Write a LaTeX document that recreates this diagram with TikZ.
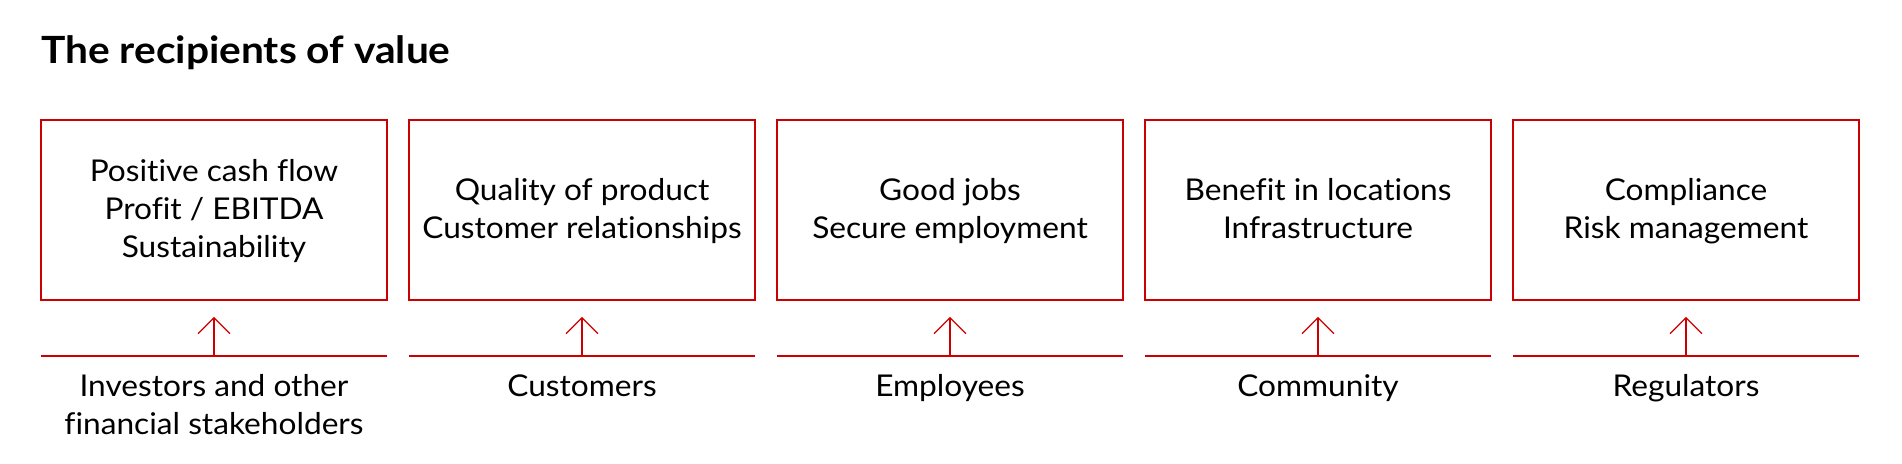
\documentclass[tikz,border=0pt]{standalone}
\usepackage{fontspec}
\setmainfont{Lato}[FakeStretch=1.055, Ligatures=NoCommon, BoldFeatures={FakeStretch=1.085}]
\usetikzlibrary{arrows.meta}
\definecolor{vred}{RGB}{204,0,0}
\newcommand\bstrut{\rule[-9.9pt]{0pt}{38pt}}
\begin{document}
\begin{tikzpicture}[x=1pt,y=-1pt,
  valuebox/.style={draw=vred, line width=1.6pt, minimum width=346pt, minimum height=180pt, inner sep=0pt, align=center, font=\fontsize{30}{38}\selectfont},
  grouplabel/.style={anchor=north, inner sep=0pt, align=center, font=\fontsize{30}{38}\selectfont},
  baseline/.style={draw=vred, line width=1.3pt},
  uparrow/.style={draw=vred, line width=1.3pt, -{Straight Barb[length=16pt,width=32pt]}}
]
\useasboundingbox (0,0) rectangle (1902,463);
\node[anchor=base west, inner sep=0pt, font=\fontsize{37.5}{45}\selectfont\bfseries] (title) at (41,63) {The recipients of value};

\node[valuebox] (b1) at (214,210) {\bstrut Positive cash flow\\\bstrut Profit / EBITDA\\\bstrut Sustainability};
\node[valuebox] (b2) at (582,210) {\bstrut Quality of product\\\bstrut Customer relationships};
\node[valuebox] (b3) at (950,210) {\bstrut Good jobs\\\bstrut Secure employment};
\node[valuebox] (b4) at (1318,210) {\bstrut Benefit in locations\\\bstrut Infrastructure};
\node[valuebox] (b5) at (1686,210) {\bstrut Compliance\\\bstrut Risk management};

\foreach \i/\cx in {1/214,2/582,3/950,4/1318,5/1686}{
  \coordinate (l\i a) at (\cx-173,356);
  \coordinate (l\i b) at (\cx+173,356);
  \coordinate (s\i) at (\cx,356);
  \draw[baseline] (l\i a) -- (l\i b);
  \draw[uparrow] (s\i) -- ([yshift=-16pt]b\i.south);
}

\node[grouplabel] (g1) at (214,374.5) {Investors and other\\financial stakeholders};
\node[grouplabel] (g2) at (582,374.5) {Customers};
\node[grouplabel] (g3) at (950,374.5) {Employees};
\node[grouplabel] (g4) at (1318,374.5) {Community};
\node[grouplabel] (g5) at (1686,374.5) {Regulators};
\end{tikzpicture}
\end{document}
